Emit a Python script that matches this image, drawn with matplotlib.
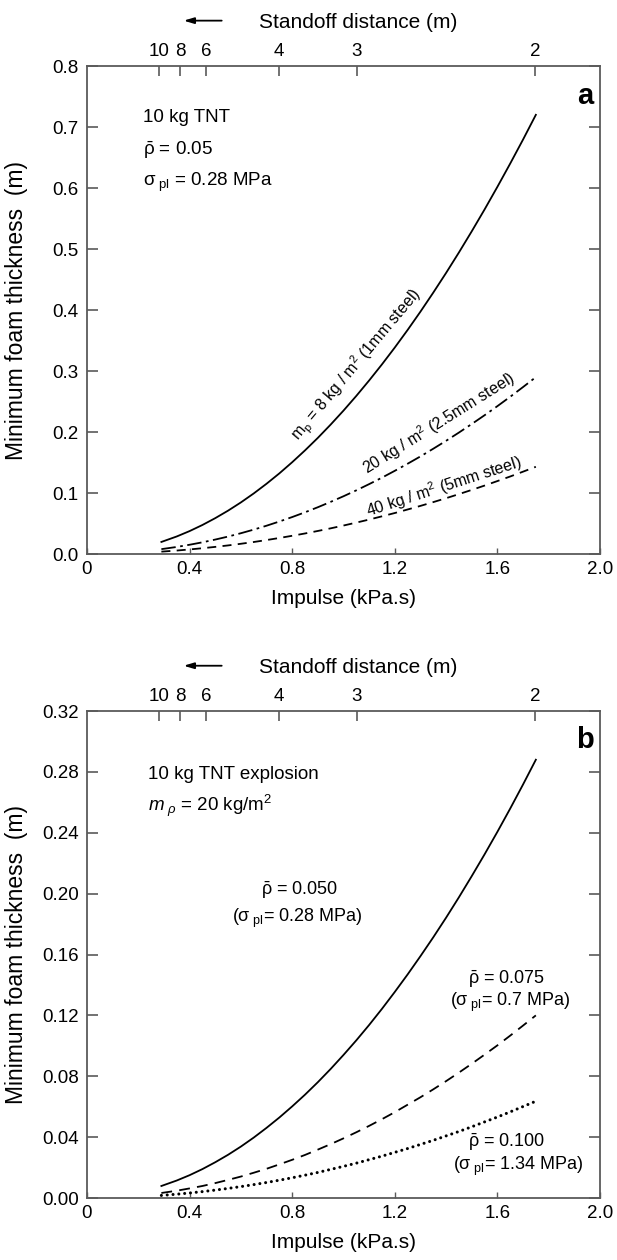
import numpy as np
import matplotlib
matplotlib.use("Agg")
import matplotlib.pyplot as plt

plt.rcParams['font.family'] = ['Liberation Sans', 'DejaVu Sans']
plt.rcParams['mathtext.fontset'] = 'custom'
plt.rcParams['mathtext.rm'] = 'Liberation Sans'
plt.rcParams['mathtext.it'] = 'Liberation Sans:italic'
plt.rcParams['mathtext.bf'] = 'Liberation Sans:bold'

# impulse (kPa.s) where curves were read
impulse = [0.29, 0.35, 0.40, 0.45, 0.50, 0.55, 0.60, 0.65, 0.70, 0.75, 0.80, 0.85, 0.90, 0.95, 1.00,
           1.05, 1.10, 1.15, 1.20, 1.25, 1.30, 1.35, 1.40, 1.45, 1.50, 1.55, 1.60, 1.65, 1.70, 1.75]

# panel a: min foam thickness (m) for three plate masses
a_8kg = [0.0198, 0.0288, 0.0376, 0.0476, 0.0588, 0.0711, 0.0846, 0.0993, 0.1152, 0.1322, 0.1505, 0.1699,
         0.1904, 0.2122, 0.2351, 0.2592, 0.2845, 0.3109, 0.3385, 0.3673, 0.3973, 0.4285, 0.4608, 0.4943,
         0.5290, 0.5648, 0.6019, 0.6401, 0.6794, 0.720]
a_20kg = [0.0080, 0.0116, 0.0152, 0.0192, 0.0237, 0.0286, 0.0341, 0.0400, 0.0464, 0.0533, 0.0606, 0.0684,
          0.0767, 0.0855, 0.0947, 0.1044, 0.1146, 0.1252, 0.1364, 0.1480, 0.1600, 0.1726, 0.1856, 0.1991,
          0.2131, 0.2275, 0.2424, 0.2578, 0.2737, 0.290]
a_40kg = [0.0039, 0.0057, 0.0075, 0.0095, 0.0117, 0.0141, 0.0168, 0.0197, 0.0229, 0.0263, 0.0299, 0.0337,
          0.0378, 0.0421, 0.0467, 0.0515, 0.0565, 0.0618, 0.0672, 0.0730, 0.0789, 0.0851, 0.0915, 0.0982,
          0.1051, 0.1122, 0.1196, 0.1271, 0.1350, 0.143]

# panel b: min foam thickness (m) for three relative densities
b_050 = [0.0079, 0.0115, 0.0150, 0.0190, 0.0235, 0.0284, 0.0338, 0.0397, 0.0461, 0.0529, 0.0602, 0.0679,
         0.0761, 0.0848, 0.0940, 0.1036, 0.1137, 0.1243, 0.1354, 0.1469, 0.1589, 0.1713, 0.1842, 0.1976,
         0.2115, 0.2258, 0.2406, 0.2559, 0.2717, 0.288]
b_075 = [0.0033, 0.0048, 0.0063, 0.0079, 0.0098, 0.0119, 0.0141, 0.0166, 0.0192, 0.0221, 0.0251, 0.0283,
         0.0318, 0.0354, 0.0392, 0.0432, 0.0474, 0.0518, 0.0564, 0.0613, 0.0662, 0.0714, 0.0768, 0.0824,
         0.0882, 0.0942, 0.1003, 0.1067, 0.1133, 0.120]
b_100 = [0.0017, 0.0025, 0.0033, 0.0042, 0.0052, 0.0063, 0.0075, 0.0088, 0.0102, 0.0117, 0.0133, 0.0150,
         0.0168, 0.0188, 0.0208, 0.0229, 0.0252, 0.0275, 0.0300, 0.0325, 0.0352, 0.0379, 0.0408, 0.0437,
         0.0468, 0.0500, 0.0532, 0.0566, 0.0601, 0.0636]

# standoff distance axis (top): tick positions in impulse units
standoff_pos = [0.281, 0.363, 0.464, 0.748, 1.052, 1.747]
standoff_lab = ['10', '8', '6', '4', '3', '2']

xticks = [0, 0.4, 0.8, 1.2, 1.6, 2.0]
xticklabels = ['0', '0.4', '0.8', '1.2', '1.6', '2.0']

spine_col = '#5a5a5a'

fig = plt.figure(figsize=(6.17, 12.6), dpi=100)
axa = fig.add_axes([0.141, 0.5603, 0.8314, 0.3873])
axb = fig.add_axes([0.141, 0.0492, 0.8314, 0.3865])


def style_axes(ax, ylim, yticks, yfmt):
    ax.set_xlim(0, 2.0)
    ax.set_ylim(*ylim)
    ax.set_xticks(xticks)
    ax.set_xticklabels(xticklabels)
    ax.set_yticks(yticks)
    ax.set_yticklabels([yfmt % v for v in yticks])
    for s in ax.spines.values():
        s.set_color(spine_col)
        s.set_linewidth(1.3)
    ax.tick_params(axis='y', direction='in', length=8, width=1.2, color=spine_col,
                   labelsize=13.5, pad=6, right=True)
    ax.tick_params(axis='x', direction='in', length=4, width=1.0, color=spine_col,
                   labelsize=13.5, pad=5)
    ax.text(0.5, -0.092, 'Impulse (kPa.s)', transform=ax.transAxes, ha='center', va='center', fontsize=15)
    ax.set_ylabel('Minimum foam thickness  (m)', fontsize=16.5)
    ax.yaxis.set_label_coords(-0.115, 0.5)

    top = ax.twiny()
    top.set_xlim(0, 2.0)
    top.set_xticks(standoff_pos)
    top.set_xticklabels(standoff_lab)
    top.tick_params(axis='x', direction='in', length=7, width=1.2, color=spine_col,
                    labelsize=13.5, pad=4)
    for s in top.spines.values():
        s.set_visible(False)
    ax.text(0.528, 1.09, 'Standoff distance (m)', transform=ax.transAxes,
            ha='center', va='center', fontsize=15)
    ax.annotate('', xy=(0.183, 1.093), xytext=(0.268, 1.093), xycoords='axes fraction',
                arrowprops=dict(arrowstyle='-|>,head_length=0.6,head_width=0.18', color='black', lw=1.3),
                annotation_clip=False)


# ---- panel a ----
style_axes(axa, (0, 0.8), [0, 0.1, 0.2, 0.3, 0.4, 0.5, 0.6, 0.7, 0.8], '%.1f')
axa.plot(impulse, a_8kg, color='black', lw=1.3)
axa.plot(impulse, a_20kg, color='black', lw=1.3, dashes=(8, 2.5, 1.5, 2.5))
axa.plot(impulse, a_40kg, color='black', lw=1.3, dashes=(5, 3.5))

axa.text(0.218, 0.716, '10 kg TNT', fontsize=13.5, va='center')
axa.text(0.218, 0.662, r'$\mathrm{\bar{\rho}}$ = 0.05', fontsize=13.5, va='center')
axa.text(0.218, 0.610, r'$\mathrm{\sigma_{\ pl}}$ = 0.28 MPa', fontsize=13.5, va='center')
axa.text(1.942, 0.751, 'a', fontsize=21, fontweight='bold', ha='center', va='center')

axa.text(1.053, 0.31, r'$\mathrm{m_p}$ = 8 kg / m$^2$ (1mm steel)', fontsize=11.5,
         rotation=50, rotation_mode='anchor', ha='center', va='center')
axa.text(1.37, 0.215, r'20 kg / m$^2$ (2.5mm steel)', fontsize=11.5,
         rotation=32, rotation_mode='anchor', ha='center', va='center')
axa.text(1.39, 0.11, r'40 kg / m$^2$ (5mm steel)', fontsize=11.5,
         rotation=18, rotation_mode='anchor', ha='center', va='center')

# ---- panel b ----
style_axes(axb, (0, 0.32), [0, 0.04, 0.08, 0.12, 0.16, 0.20, 0.24, 0.28, 0.32], '%.2f')
axb.plot(impulse, b_050, color='black', lw=1.3)
axb.plot(impulse, b_075, color='black', lw=1.3, dashes=(6, 4))
axb.plot(impulse, b_100, color='black', lw=2.2, dashes=(0.01, 1.9), dash_capstyle='round')

axb.text(0.238, 0.278, '10 kg TNT explosion', fontsize=13.5, va='center')
axb.text(0.238, 0.258, r'$m_{\ \rho}$ = 20 kg/m$^2$', fontsize=13.5, va='center')
axb.text(1.942, 0.301, 'b', fontsize=21, fontweight='bold', ha='center', va='center')

axb.text(0.83, 0.202, r'$\mathrm{\bar{\rho}}$ = 0.050', fontsize=13, ha='center', va='center')
axb.text(0.82, 0.184, r'($\mathrm{\sigma_{\ pl}}$= 0.28 MPa)', fontsize=13, ha='center', va='center')
axb.text(1.637, 0.144, r'$\mathrm{\bar{\rho}}$ = 0.075', fontsize=13, ha='center', va='center')
axb.text(1.65, 0.1285, r'($\mathrm{\sigma_{\ pl}}$= 0.7 MPa)', fontsize=13, ha='center', va='center')
axb.text(1.637, 0.0367, r'$\mathrm{\bar{\rho}}$ = 0.100', fontsize=13, ha='center', va='center')
axb.text(1.68, 0.021, r'($\mathrm{\sigma_{\ pl}}$= 1.34 MPa)', fontsize=13, ha='center', va='center')

fig.savefig('out.png', dpi=100)
